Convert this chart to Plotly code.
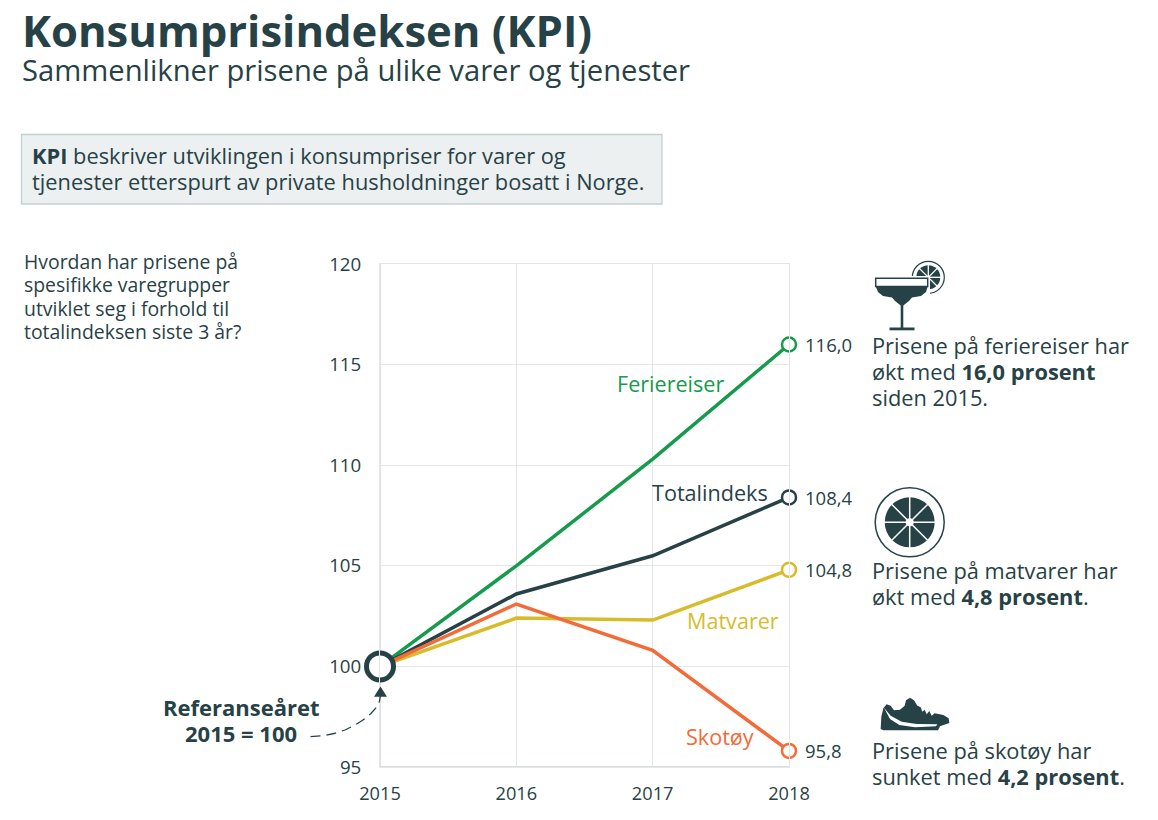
import math
import plotly.graph_objects as go

# --- data ---
YEARS = [2015, 2016, 2017, 2018]
FERIEREISER = [100, 105.0, 110.3, 116.0]
TOTALINDEKS = [100, 103.6, 105.5, 108.4]
MATVARER = [100, 102.4, 102.3, 104.8]
SKOTOY = [100, 103.1, 100.8, 95.8]
Y_TICKS = [95, 100, 105, 110, 115, 120]

SERIES_NAMES = ["Feriereiser", "Totalindeks", "Matvarer", "Skotøy"]
SERIES_VALUES = [FERIEREISER, TOTALINDEKS, MATVARER, SKOTOY]
SERIES_COLORS = ["#169B4C", "#274247", "#D6BC2B", "#F26B38"]
END_LABELS = ["116,0", "108,4", "104,8", "95,8"]

DARK = "#274247"
GRID = "#E4E7E7"
FONT = "Open Sans"
W, H = 1158, 820
# the page body has an 8px margin, so the figure itself is 8px smaller
BODY = 8
# plot area in picture pixels
L, R, T, B = 380, 789, 264, 767
# annotations carry a little padding, take it off again
PAD_X = {"left": -2.5, "right": 2, "center": 0}
PAD_Y = -1.5


def px(x):
    return (x - L) / (R - L)


def py(y):
    return (B - y) / (B - T)


def path(points, close=True):
    s = "M " + " L ".join(f"{px(x):.5f},{py(y):.5f}" for x, y in points)
    return s + (" Z" if close else "")


shapes = []


def add_path(points, fill=DARK, line=None, width=0, close=True, dash=None):
    shapes.append(dict(
        type="path", path=path(points, close), xref="paper", yref="paper",
        fillcolor=fill if close else None,
        line=dict(color=line or fill, width=width, dash=dash),
    ))


def add_circle(cx, cy, r, fill=DARK, line=None, width=0):
    shapes.append(dict(
        type="circle", xref="paper", yref="paper",
        x0=px(cx - r), x1=px(cx + r), y0=py(cy + r), y1=py(cy - r),
        fillcolor=fill, line=dict(color=line or fill, width=width),
    ))


def add_spokes(cx, cy, r, n, width=1.5):
    for i in range(n):
        a = math.pi * i / n
        dx, dy = r * math.cos(a), r * math.sin(a)
        add_path([(cx - dx, cy - dy), (cx + dx, cy + dy)], line="white", width=width, close=False)


def note(x, y, text, size=21.8, anchor="left", color=DARK):
    return dict(
        x=px(x + PAD_X[anchor]), y=py(y + PAD_Y), xref="paper", yref="paper", text=text, showarrow=False,
        xanchor=anchor, yanchor="middle", align=anchor,
        font=dict(family=FONT, size=size, color=color),
    )


def block(x, y0, step, rows, size=21.8, anchor="left"):
    # one annotation per row, the line spacing is tighter than plotly's own
    return [note(x, y0 + i * step, row, size=size, anchor=anchor) for i, row in enumerate(rows)]


fig = go.Figure()

for name, vals, col in zip(SERIES_NAMES, SERIES_VALUES, SERIES_COLORS):
    fig.add_trace(go.Scatter(
        x=YEARS, y=vals, mode="lines", name=name, cliponaxis=False,
        line=dict(color=col, width=3.5), showlegend=False,
    ))
    fig.add_trace(go.Scatter(
        x=YEARS[-1:], y=vals[-1:], mode="markers", cliponaxis=False, showlegend=False,
        marker=dict(size=14, color="white", line=dict(color=col, width=2.5)),
    ))

# reference year ring
fig.add_trace(go.Scatter(
    x=YEARS[:1], y=[100], mode="markers", cliponaxis=False, showlegend=False,
    marker=dict(size=27, color="white", line=dict(color=DARK, width=5)),
))

annotations = [
    note(22, 31, "<b>Konsumprisindeksen (KPI)</b>", size=43.6),
    note(22, 71, "Sammenlikner prisene på ulike varer og tjenester", size=29.2),
    note(724, 385, "Feriereiser", size=21.6, anchor="right", color=SERIES_COLORS[0]),
    note(768, 494, "Totalindeks", size=21.6, anchor="right", color=SERIES_COLORS[1]),
    note(779, 622, "Matvarer", size=21.6, anchor="right", color=SERIES_COLORS[2]),
    note(754, 738, "Skotøy", size=21.6, anchor="right", color=SERIES_COLORS[3]),
]
annotations += block(32, 157, 26, ["<b>KPI</b> beskriver utviklingen i konsumpriser for varer og",
                                   "tjenester etterspurt av private husholdninger bosatt i Norge."])
annotations += block(24, 263, 23.3, ["Hvordan har prisene på", "spesifikke varegrupper",
                                     "utviklet seg i forhold til", "totalindeksen siste 3 år?"], size=19.4)
annotations += block(241, 708, 26, ["<b>Referanseåret</b>", "<b>2015 = 100</b>"], size=22, anchor="center")
annotations += block(872, 347, 26, ["Prisene på feriereiser har", "økt med <b>16,0 prosent</b>", "siden 2015."])
annotations += block(872, 572, 26, ["Prisene på matvarer har", "økt med <b>4,8 prosent</b>."])
annotations += block(872, 751.5, 26, ["Prisene på skotøy har", "sunket med <b>4,2 prosent</b>."])

# value labels at the line ends
for vals, label in zip(SERIES_VALUES, END_LABELS):
    annotations.append(dict(
        x=YEARS[-1], y=vals[-1], xref="x", yref="y", text=label, showarrow=False,
        xanchor="left", yanchor="middle", xshift=14,
        font=dict(family=FONT, size=18.5, color=DARK),
    ))

# info box
shapes.append(dict(
    type="rect", xref="paper", yref="paper", layer="below",
    x0=px(21.5), x1=px(662), y0=py(204), y1=py(134.5),
    fillcolor="#ECF0F1", line=dict(color="#C3D0CF", width=1.3),
))

# left and bottom axis are a bit darker than the grid
shapes.append(dict(type="line", xref="paper", yref="paper", layer="below", x0=0, x1=0, y0=0, y1=1,
                   line=dict(color="#CDD2D2", width=1.3)))
shapes.append(dict(type="line", xref="paper", yref="paper", layer="below", x0=0, x1=1, y0=0, y1=0,
                   line=dict(color="#CDD2D2", width=1.3)))

# dashed arrow to the reference point
add_path([(310.5, 736.7), (323, 735.7), (334, 733.5), (345, 730), (355, 725), (363, 720), (371, 713.5),
          (377, 706.7), (379.5, 701), (380.5, 695)],
         line=DARK, width=1.3, close=False, dash="10px,6px")
add_path([(380.5, 686.5), (374, 696.7), (387, 696.7)])

# cocktail icon: lime behind the glass
add_circle(928.3, 277.3, 16, fill="white", line=DARK, width=1.2)
add_circle(928.3, 277.3, 12)
add_spokes(928.3, 277.3, 13, 4, width=1.3)
add_path([(874, 276), (930, 276), (930, 300), (874, 300)], fill="white")
add_path([(875.7, 278.3), (927.7, 278.3), (927.7, 286.5), (875.7, 286.5)], fill="white", line=DARK, width=1.5)
add_path([(875.7, 286.5), (927.7, 286.5), (926, 292), (921, 296), (912, 297.5), (909, 301), (902, 306.5),
          (895, 301), (892, 297.5), (883, 296), (878, 292)])
add_path([(900.7, 305), (903.3, 305), (903.3, 328), (900.7, 328)])
add_path([(889.5, 327.5), (914.5, 327.5), (914.5, 330.3), (889.5, 330.3)])

# fruit wheel icon
add_circle(909.7, 522.3, 34.5, fill="white", line=DARK, width=1.5)
add_circle(909.7, 522.3, 25)
add_spokes(909.7, 522.3, 26, 4)
add_circle(909.7, 522.3, 4, fill="white")

# shoe icon, outline traced in zoomed pixels
SHOE = [(62, 132), (64, 95), (70, 70), (80, 58), (92, 62), (102, 76), (120, 74), (134, 62), (138, 46), (150, 38),
        (162, 46), (172, 62), (182, 67), (187, 80), (194, 74), (200, 88), (208, 78), (215, 92), (224, 85),
        (250, 90), (266, 100), (268, 114), (240, 124), (234, 136), (70, 136)]
SWOOSH = [(72, 68), (92, 92), (125, 110), (170, 117), (232, 118), (228, 124), (165, 127), (118, 120), (90, 102)]
add_path([(860 + x / 3, 685 + y / 3) for x, y in SHOE])
add_path([(860 + x / 3, 685 + y / 3) for x, y in SWOOSH], fill="white")

fig.update_layout(
    width=W - BODY, height=H - BODY,
    margin=dict(l=L - BODY, r=W - R, t=T - BODY, b=H - B, pad=0),
    paper_bgcolor="white", plot_bgcolor="white",
    font=dict(family=FONT, size=18, color=DARK),
    showlegend=False,
    annotations=annotations,
    shapes=shapes,
    xaxis=dict(
        range=[YEARS[0], YEARS[-1]], tickvals=YEARS, ticks="outside", ticklen=10, tickcolor="rgba(0,0,0,0)",
        showgrid=True, gridcolor=GRID, gridwidth=1.2, zeroline=False,
        showline=True, linecolor=GRID, mirror=True,
        tickfont=dict(size=18.2, color=DARK),
    ),
    yaxis=dict(
        range=[Y_TICKS[0], Y_TICKS[-1]], tickvals=Y_TICKS, ticks="outside", ticklen=14, tickcolor="rgba(0,0,0,0)",
        showgrid=True, gridcolor=GRID, gridwidth=1.2, zeroline=False,
        showline=True, linecolor=GRID, mirror=True,
        tickfont=dict(size=18.7, color=DARK),
    ),
)

fig.write_html("out.html")
